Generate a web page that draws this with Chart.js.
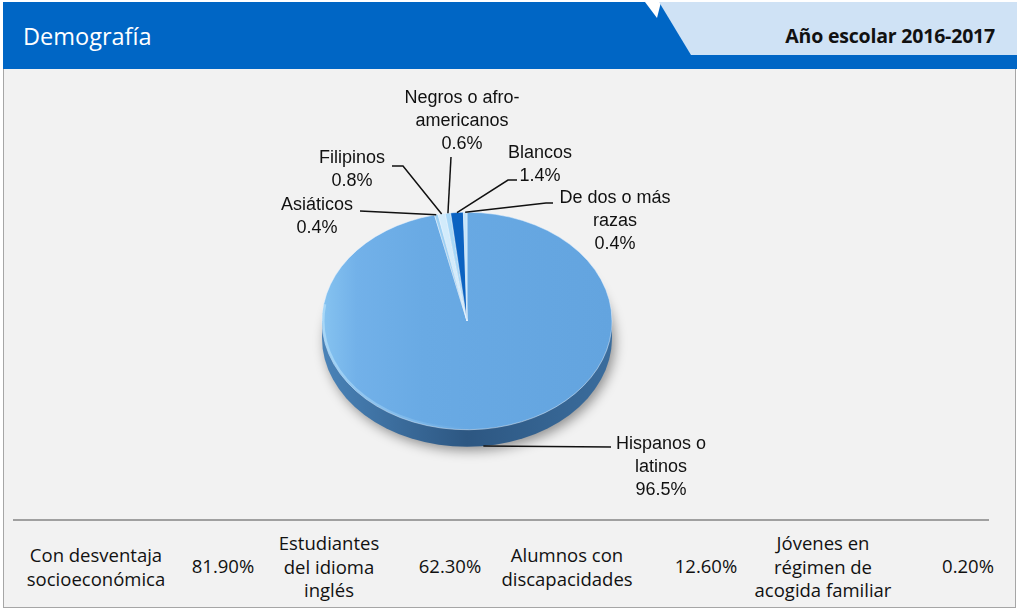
<!DOCTYPE html>
<html lang="es">
<head>
  <meta charset="UTF-8" />
  <title>Demografía</title>
  <style>
    body {
      margin: 0;
      width: 1017px;
      height: 610px;
      background: #fff;
      position: relative;
      overflow: hidden;
      font-family: 'Open Sans', sans-serif;
    }
    #cabecera {
      position: absolute;
      left: 3px;
      top: 2px;
      width: 1014px;
      height: 67px;
      background: #0066c5;
    }
    #pestana {
      position: absolute;
      left: 659px;
      top: 2px;
      width: 358px;
      height: 53px;
      background: #cfe2f5;
      clip-path: polygon(0 0, 100% 0, 100% 100%, 32px 100%);
    }
    #cuna {
      position: absolute;
      left: 645px;
      top: 2px;
      width: 16px;
      height: 16px;
      background: #fff;
      clip-path: polygon(0 0, 100% 0, 75% 100%);
    }
    #titulo {
      position: absolute;
      left: 23px;
      top: 19px;
      color: #fff;
      font-size: 23.5px;
      line-height: 34px;
    }
    #curso {
      position: absolute;
      right: 22px;
      top: 21px;
      font-size: 19.5px;
      font-weight: bold;
      line-height: 30px;
      color: #111;
      letter-spacing: -0.2px;
    }
    #cuerpo {
      position: absolute;
      left: 3px;
      top: 69px;
      width: 1011px;
      height: 538px;
      background: #f2f2f2;
      border: 1px solid #a6a6a6;
      border-top: none;
    }
    #separador {
      position: absolute;
      left: 13px;
      top: 519px;
      width: 976px;
      height: 0;
      border-top: 2px solid #a0a0a0;
    }
    #grafico {
      position: absolute;
      left: 3px;
      top: 70px;
    }
    .celda {
      position: absolute;
      top: 566px;
      transform: translate(-50%, -50%);
      text-align: center;
      white-space: nowrap;
      font-size: 18.5px;
      line-height: 23.5px;
      color: #111;
    }
  </style>
</head>
<body>
  <div id="cabecera"></div>
  <div id="cuna"></div>
  <div id="pestana"></div>
  <div id="titulo">Demografía</div>
  <div id="curso">Año escolar 2016-2017</div>
  <div id="cuerpo"></div>
  <div id="separador"></div>
  <canvas id="grafico" width="1013" height="445"></canvas>
  <div id="programas"></div>

<script src="https://cdn.jsdelivr.net/npm/chart.js@4.4.0/dist/chart.umd.min.js"></script>
<script>
  // datos del gráfico
  const categorias = [['Hispanos o', 'latinos'], ['Asiáticos'], ['Filipinos'], ['Negros o afro-', 'americanos'], ['Blancos'], ['De dos o más', 'razas']];
  const porcentajes = [96.5, 0.4, 0.8, 0.6, 1.4, 0.4];
  const coloresSector = ['#68a9e3', '#9ccff3', '#d2ebfb', '#a9d8f7', '#0b62c1', '#c4e4f9'];

  // datos de la tabla inferior
  const programas = [['Con desventaja', 'socioeconómica'], ['Estudiantes', 'del idioma', 'inglés'], ['Alumnos con', 'discapacidades'], ['Jóvenes en', 'régimen de', 'acogida familiar']];
  const programasValores = [81.9, 62.3, 12.6, 0.2];

  // colocación de etiquetas, relativa al centro del pastel
  const posEtiquetas = [
    { texto: [194, 123], codo: [144, 126], fin: [144, 126] },
    { texto: [-150, -116], codo: [-107, -110], fin: [-107, -110] },
    { texto: [-115, -163], codo: [-64, -155], fin: [-75, -155] },
    { texto: [-5, -223], codo: [-16, -164], fin: [-16, -164] },
    { texto: [73, -168], codo: [41, -141], fin: [50, -141] },
    { texto: [148, -123], codo: [79, -118], fin: [86, -118] }
  ];
  const escalaY = 0.75;
  const profundidad = 17;

  const pastel3D = {
    id: 'pastel3D',
    beforeDatasetsDraw(chart) {
      const arco = chart.getDatasetMeta(0).data[0];
      const cx = arco.x, cy = arco.y, rx = arco.outerRadius;
      const ry = rx * escalaY;
      const ctx = chart.ctx;

      ctx.save();
      // sombra
      ctx.filter = 'blur(6px)';
      ctx.fillStyle = 'rgba(0,0,0,0.4)';
      ctx.beginPath();
      ctx.ellipse(cx + 3, cy + profundidad + 4, rx, ry, 0, 0, Math.PI * 2);
      ctx.fill();
      ctx.filter = 'none';

      // lateral
      const grad = ctx.createLinearGradient(cx - rx, 0, cx + rx, 0);
      grad.addColorStop(0, '#4a83b8');
      grad.addColorStop(0.5, '#2d5782');
      grad.addColorStop(1, '#3b6d9d');
      ctx.fillStyle = grad;
      ctx.beginPath();
      ctx.ellipse(cx, cy + profundidad, rx, ry, 0, 0, Math.PI);
      ctx.lineTo(cx - rx, cy);
      ctx.lineTo(cx + rx, cy);
      ctx.closePath();
      ctx.fill();
      ctx.restore();

      // cara superior achatada
      ctx.save();
      ctx.translate(cx, cy);
      ctx.scale(1, escalaY);
      ctx.translate(-cx, -cy);
    },
    afterDatasetsDraw(chart) {
      const ctx = chart.ctx;
      ctx.restore();

      const arcos = chart.getDatasetMeta(0).data;
      const cx = arcos[0].x, cy = arcos[0].y, rx = arcos[0].outerRadius;
      const ry = rx * escalaY;

      // brillo suave en el borde inferior izquierdo
      ctx.save();
      const brillo = ctx.createLinearGradient(cx - rx, 0, cx, 0);
      brillo.addColorStop(0, 'rgba(200,236,255,0.5)');
      brillo.addColorStop(1, 'rgba(200,236,255,0)');
      ctx.strokeStyle = brillo;
      ctx.lineWidth = 2;
      ctx.beginPath();
      ctx.ellipse(cx, cy, rx - 1.5, ry - 1.5, 0, Math.PI * 0.5, Math.PI * 1.05);
      ctx.stroke();
      ctx.restore();

      // etiquetas con líneas guía
      ctx.save();
      ctx.font = "18px 'Liberation Sans', Arial, sans-serif";
      ctx.fillStyle = '#111';
      ctx.strokeStyle = '#111';
      ctx.lineWidth = 1.5;
      ctx.textAlign = 'center';
      ctx.textBaseline = 'middle';
      arcos.forEach((el, i) => {
        const p = posEtiquetas[i];
        const a = (el.startAngle + el.endAngle) / 2;
        const ax = cx + rx * Math.cos(a);
        let ay = cy + ry * Math.sin(a);
        if (Math.sin(a) > 0.3) ay += profundidad;
        ctx.beginPath();
        ctx.moveTo(ax, ay);
        ctx.lineTo(cx + p.codo[0], cy + p.codo[1]);
        ctx.lineTo(cx + p.fin[0], cy + p.fin[1]);
        ctx.stroke();

        const lineas = categorias[i].concat([porcentajes[i].toFixed(1) + '%']);
        lineas.forEach((t, k) => {
          ctx.fillText(t, cx + p.texto[0], cy + p.texto[1] + k * 23);
        });
      });
      ctx.restore();
    }
  };

  new Chart(document.getElementById('grafico'), {
    type: 'pie',
    data: {
      labels: categorias,
      datasets: [{
        data: porcentajes,
        backgroundColor: (c) => {
          const chart = c.chart;
          const area = chart.chartArea;
          if (c.dataIndex !== 0 || !area) return coloresSector[c.dataIndex];
          const g = chart.ctx.createLinearGradient(area.left, 0, area.right, 0);
          g.addColorStop(0, '#86c3f0');
          g.addColorStop(0.12, '#72b1e9');
          g.addColorStop(0.35, '#69aae4');
          g.addColorStop(1, '#63a4df');
          return g;
        },
        borderColor: 'rgba(235,245,255,0.7)',
        borderWidth: 0.8,
        hoverOffset: 0,
        offset: 0,
        clip: false
      }]
    },
    options: {
      responsive: false,
      animation: false,
      devicePixelRatio: 1,
      radius: 145,
      layout: { padding: { left: 319, right: 404, top: 106, bottom: 49 } },
      plugins: {
        legend: { display: false },
        tooltip: { enabled: false }
      }
    },
    plugins: [pastel3D]
  });

  // tabla inferior
  const etiquetaX = [96, 329, 567, 823];
  const valorX = [223, 450, 706, 968];
  const contenedor = document.getElementById('programas');
  programas.forEach((lineas, i) => {
    const et = document.createElement('div');
    et.className = 'celda';
    et.style.left = etiquetaX[i] + 'px';
    et.innerHTML = lineas.join('<br>');
    contenedor.appendChild(et);

    const val = document.createElement('div');
    val.className = 'celda';
    val.style.left = valorX[i] + 'px';
    val.textContent = programasValores[i].toFixed(2) + '%';
    contenedor.appendChild(val);
  });
</script>
</body>
</html>
